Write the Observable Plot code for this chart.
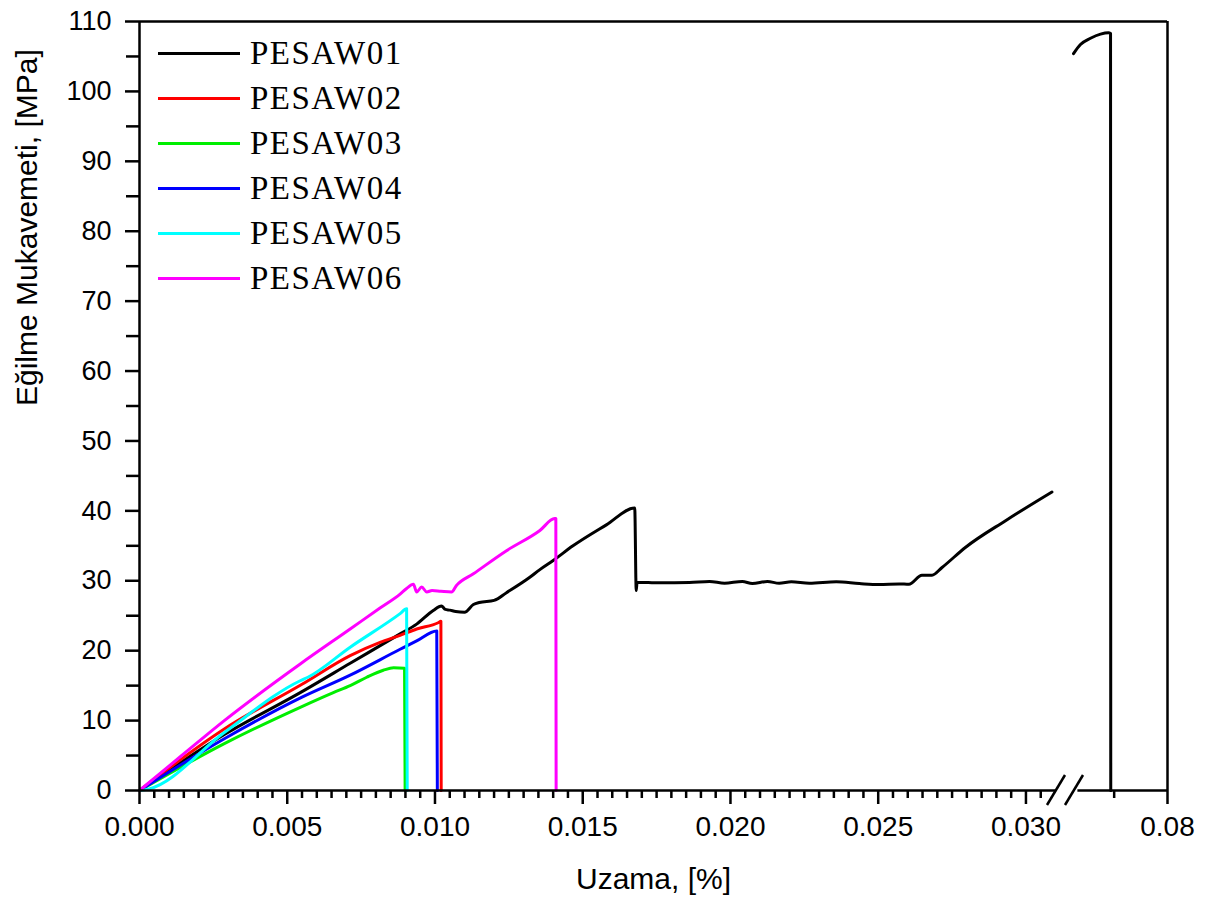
<!DOCTYPE html>
<html>
<head>
<meta charset="utf-8">
<script src="https://cdn.jsdelivr.net/npm/d3@7"></script>
<script src="https://cdn.jsdelivr.net/npm/@observablehq/plot@0.6"></script>
<style>
  body { margin: 0; background: #fff; }
  #wrap { position: relative; width: 1210px; height: 908px; }
  #legend { position: absolute; left: 0; top: 0; font-family: "Liberation Serif", "Times New Roman", serif; font-size: 33px; color: #000; }
  .row { position: absolute; left: 158px; height: 40px; display: flex; align-items: center; white-space: nowrap; letter-spacing: 1.5px; }
  .sw { display: inline-block; width: 82px; height: 3px; margin-right: 10px; }
</style>
</head>
<body>
<div id="wrap"><div id="legend"></div></div>
<script>
// ---------- data ----------
const seriesNames = ["PESAW01", "PESAW02", "PESAW03", "PESAW04", "PESAW05", "PESAW06"];
const seriesColors = ["#000000", "#ff0000", "#00ee00", "#0000ff", "#00ffff", "#ff00ff"];

// PESAW01 (two pieces separated by the axis break; NaN = gap)
const p01x = [0, 0.00287, 0.00544, 0.00713, 0.00882, 0.00938, 0.00994, 0.01022, 0.01035, 0.0105, 0.0107, 0.0110, 0.0113, 0.0115, 0.0120, 0.01242, 0.01321, 0.01355, 0.0140, 0.01467, 0.0158, 0.01676, 0.01681, 0.01684,
  0.0176, 0.01861, 0.01929, 0.0198, 0.0204, 0.02074, 0.02125, 0.02165, 0.02206, 0.02267, 0.02358, 0.02436, 0.02503, 0.02571, 0.02604, 0.02648, 0.02682, 0.02716, 0.02796, 0.02931, 0.03088,
  NaN,
  0.07119, 0.07184, 0.07278, 0.07372, 0.07447, 0.07466, 0.07468];
const p01y = [0, 8.0, 14.0, 18.2, 22.4, 23.8, 25.75, 26.4, 25.9, 25.8, 25.6, 25.5, 26.6, 26.9, 27.2, 28.3, 30.5, 31.6, 32.9, 35.0, 38.0, 40.4, 28.6, 29.8,
  29.7, 29.75, 29.9, 29.65, 29.9, 29.6, 29.9, 29.65, 29.85, 29.65, 29.85, 29.6, 29.45, 29.55, 29.5, 30.8, 30.8, 31.9, 34.8, 38.6, 42.7,
  NaN,
  105.4, 106.7, 107.6, 108.2, 108.4, 108.3, 0];

const p02x = [0, 0.00287, 0.0055, 0.00713, 0.00814, 0.00882, 0.00938, 0.01011, 0.0102, 0.01021];
const p02y = [0, 8.8, 15.2, 19.3, 21.2, 22.2, 23.1, 24.0, 24.2, 0];

const p03x = [0, 0.00287, 0.00544, 0.00656, 0.00713, 0.00769, 0.00825, 0.0086, 0.00897, 0.00899];
const p03y = [0, 6.7, 11.9, 14.0, 15.0, 16.2, 17.2, 17.55, 17.5, 0];

const p04x = [0, 0.00287, 0.0055, 0.00713, 0.00882, 0.00938, 0.01006, 0.01008];
const p04y = [0, 7.4, 13.35, 16.5, 20.2, 21.4, 22.8, 0];

const p05x = [0, 0.0003, 0.00287, 0.00544, 0.0057, 0.00713, 0.00882, 0.00904, 0.00906];
const p05y = [0, 0.2, 8.3, 15.7, 16.2, 20.5, 25.3, 26.0, 0];

const p06x = [0, 0.0014, 0.00287, 0.00544, 0.00713, 0.00814, 0.00882, 0.00904, 0.00927, 0.00938, 0.00955, 0.00972, 0.0099, 0.0102, 0.01056, 0.01072, 0.0113, 0.01242, 0.01355, 0.01405, 0.01409, 0.0141];
const p06y = [0, 4.9, 10.0, 18.1, 23.1, 26.1, 28.1, 28.9, 29.5, 28.4, 29.1, 28.4, 28.6, 28.5, 28.4, 29.3, 31.0, 34.3, 37.2, 38.9, 38.9, 0];

// axis ticks
const xMajorTicks = [0, 0.005, 0.010, 0.015, 0.020, 0.025, 0.030, 0.08];
const xMajorLabels = ["0.000", "0.005", "0.010", "0.015", "0.020", "0.025", "0.030", "0.08"];
const xMinorTicks = [0.0005, 0.001, 0.0015, 0.002, 0.0025, 0.003, 0.0035, 0.004, 0.0045,
  0.0055, 0.006, 0.0065, 0.007, 0.0075, 0.008, 0.0085, 0.009, 0.0095,
  0.0105, 0.011, 0.0115, 0.012, 0.0125, 0.013, 0.0135, 0.014, 0.0145,
  0.0155, 0.016, 0.0165, 0.017, 0.0175, 0.018, 0.0185, 0.019, 0.0195,
  0.0205, 0.021, 0.0215, 0.022, 0.0225, 0.023, 0.0235, 0.024, 0.0245,
  0.0255, 0.026, 0.0265, 0.027, 0.0275, 0.028, 0.0285, 0.029, 0.0295,
  0.0305, 0.075];
const yMajorTicks = [0, 10, 20, 30, 40, 50, 60, 70, 80, 90, 100, 110];
const yMinorTicks = [5, 15, 25, 35, 45, 55, 65, 75, 85, 95, 105];

// broken x axis: piecewise (polylinear) domain
const xDomain = [0, 0.031, 0.071, 0.08];
const xAxisSegments = [[0, 0.031], [0.0716, 0.08]];

// ---------- build table ----------
const allX = [p01x, p02x, p03x, p04x, p05x, p06x];
const allY = [p01y, p02y, p03y, p04y, p05y, p06y];
const rows = [];
seriesNames.forEach((name, k) => {
  allX[k].forEach((x, i) => rows.push({series: name, x, y: allY[k][i]}));
});

const labelMap = new Map(xMajorTicks.map((t, i) => [t, xMajorLabels[i]]));

const W = 1210, H = 908, ML = 139, MR = 43, MT = 21, MB = 118;
const SW = 2.5;

function breakMark(index, scales) {
  const g = d3.create("svg:g").attr("stroke", "#000").attr("stroke-width", SW).attr("fill", "none");
  const x0 = scales.x(xAxisSegments[0][1]);
  const y0 = scales.y(0);
  for (const off of [0, 18]) {
    g.append("line")
      .attr("x1", x0 - 8 + off).attr("y1", y0 + 15)
      .attr("x2", x0 + 10 + off).attr("y2", y0 - 15);
  }
  return g.node();
}

const chart = Plot.plot({
  width: W,
  height: H,
  marginLeft: ML,
  marginRight: MR,
  marginTop: MT,
  marginBottom: MB,
  style: {fontFamily: "'Liberation Sans', Arial, sans-serif", background: "#fff", overflow: "visible"},
  x: {type: "linear", domain: xDomain, range: [ML, 1055, 1071, W - MR], label: null},
  y: {type: "linear", domain: [0, 110], label: null},
  color: {domain: seriesNames, range: seriesColors},
  marks: [
    Plot.line(rows, {x: "x", y: "y", z: "series", stroke: "series", strokeWidth: 3, strokeLinejoin: "round", curve: "monotone-x"}),
    // frame
    Plot.ruleX([0], {y1: 0, y2: 110, strokeWidth: SW}),
    Plot.ruleX([0.08], {y1: 0, y2: 110, strokeWidth: SW}),
    Plot.ruleY([110], {x1: 0, x2: 0.08, strokeWidth: SW}),
    Plot.ruleY(xAxisSegments, {x1: d => d[0], x2: d => d[1], y: () => 0, strokeWidth: SW}),
    breakMark,
    // axes
    Plot.axisX(xMajorTicks, {tickSize: 14, tickPadding: 12, strokeWidth: SW, fontSize: 28, tickFormat: d => labelMap.get(d), label: null}),
    Plot.axisX(xMinorTicks, {tickSize: 8, strokeWidth: SW, text: null, label: null}),
    Plot.axisY(yMajorTicks, {tickSize: 14, tickPadding: 14, strokeWidth: SW, fontSize: 27, tickFormat: d => String(d), label: null}),
    Plot.axisY(yMinorTicks, {tickSize: 13, strokeWidth: SW, text: null, label: null}),
    // titles
    Plot.text(["Uzama, [%]"], {frameAnchor: "bottom", dy: 98, fontSize: 30, fill: "#000"}),
    Plot.text(["Eğilme Mukavemeti, [MPa]"], {frameAnchor: "left", dx: -112, rotate: -90, fontSize: 30, fill: "#000"})
  ]
});

const wrap = document.getElementById("wrap");
wrap.insertBefore(chart, wrap.firstChild);

// legend (inside plot area, top-left)
const legend = document.getElementById("legend");
seriesNames.forEach((name, i) => {
  const row = document.createElement("div");
  row.className = "row";
  row.style.top = (33 + i * 45) + "px";
  const sw = document.createElement("span");
  sw.className = "sw";
  sw.style.background = seriesColors[i];
  row.appendChild(sw);
  row.appendChild(document.createTextNode(name));
  legend.appendChild(row);
});
</script>
</body>
</html>
